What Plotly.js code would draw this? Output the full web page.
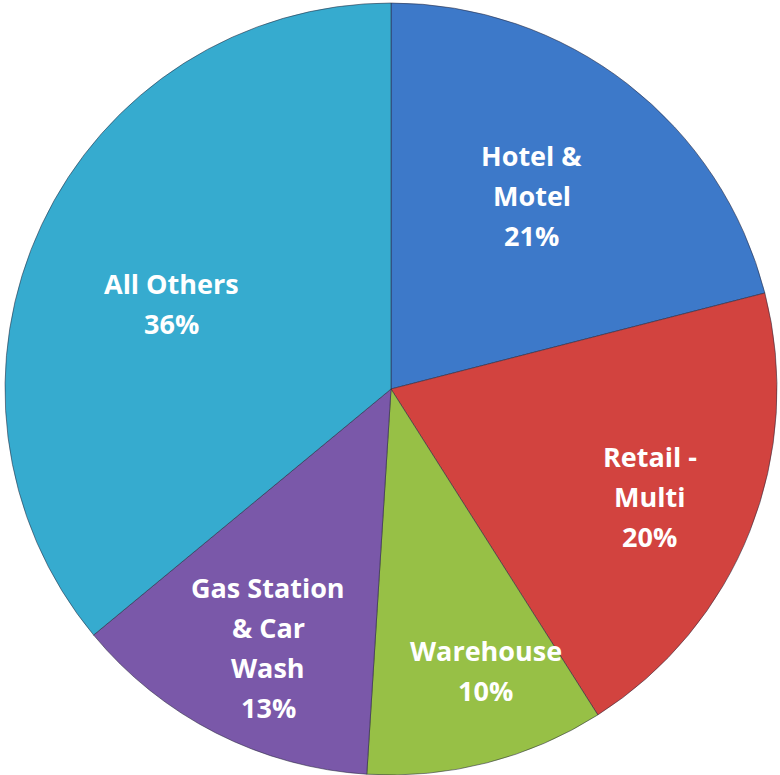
<!DOCTYPE html>
<html>
<head>
<meta charset="utf-8">
<script src="https://cdn.plot.ly/plotly-3.0.1.min.js"></script>
<style>
  html, body { margin: 0; padding: 0; background: #fff; }
  #chart { width: 780px; height: 775px; }
</style>
</head>
<body>
<div id="chart"></div>
<script>
// data
const categories = ['Hotel & Motel', 'Retail - Multi', 'Warehouse', 'Gas Station & Car Wash', 'All Others'];
const labelLines = [['Hotel &', 'Motel'], ['Retail -', 'Multi'], ['Warehouse'], ['Gas Station', '& Car', 'Wash'], ['All Others']];
const shares = [21, 20, 10, 13, 36];

// styling
const sliceColors = ['#3d79c9', '#d2433f', '#97c046', '#7a58a9', '#36abcf'];
const labelRadius = [0.62, 0.725, 0.77, 0.74, 0.61];   // fraction of pie radius
const labelAngleShift = [-1.8, 0.9, -4.2, -1.6, -4];   // degrees, best-fit nudges
const lineGap = 40;

let pieTrace = {
    type: 'pie',
    labels: categories,
    values: shares,
    textinfo: 'none',
    sort: false,
    direction: 'clockwise',
    rotation: 0,
    hoverinfo: 'label+percent',
    marker: {colors: sliceColors, line: {color: 'rgba(40,40,60,0.55)', width: 1}}
};

// data labels: centred on each slice's mid angle
const total = shares.reduce(function(a, b){ return a + b; }, 0);
let annotations = [];
let cum = 0;
shares.forEach(function(v, i){
    let mid = (cum + v / 2) / total * 360 + labelAngleShift[i];
    cum += v;
    let a = mid * Math.PI / 180;
    let x = 0.5 + 0.5 * labelRadius[i] * Math.sin(a);
    let y = 0.5 + 0.5 * labelRadius[i] * Math.cos(a);
    let lines = labelLines[i].concat([v + '%']);
    lines.forEach(function(line, j){
        annotations.push({
            xref: 'paper', yref: 'paper', x: x, y: y,
            xanchor: 'center', yanchor: 'middle',
            yshift: -(j - (lines.length - 1) / 2) * lineGap,
            text: line, showarrow: false,
            font: {family: 'Open Sans, Liberation Sans, sans-serif', size: 27, color: '#ffffff', weight: 'bold'}
        });
    });
});

let layout = {
    width: 780,
    height: 775,
    margin: {l: 5, r: 3, t: 3, b: 0},
    showlegend: false,
    paper_bgcolor: '#ffffff',
    annotations: annotations
};

Plotly.newPlot('chart', [pieTrace], layout, {displayModeBar: false});
</script>
</body>
</html>
